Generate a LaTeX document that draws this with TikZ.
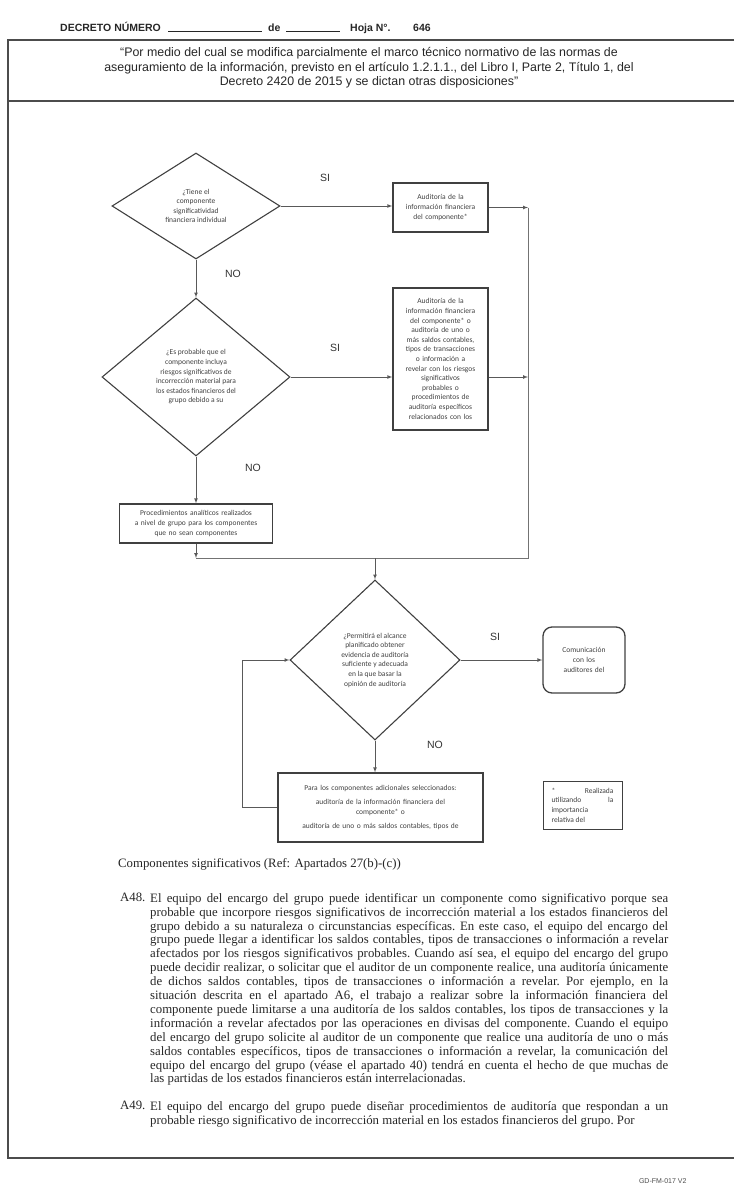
\documentclass[tikz,border=0pt]{standalone}
\usepackage{fontspec}
\setmainfont{Liberation Serif}
\setsansfont{Liberation Sans}
\newfontfamily\flowfont{Carlito}
\usetikzlibrary{shapes.geometric}
\tikzset{>=latex}
\tikzset{
  pregunta/.style={diamond, draw=black!75, line width=1.1pt, inner sep=0pt, align=center, text=black!75, font=\flowfont\fontsize{7.5}{9.6}\selectfont},
  caja/.style={rectangle, draw=black!75, line width=1.3pt, inner sep=2pt, align=center, text=black!75, font=\flowfont\fontsize{7.5}{9.6}\selectfont},
  flecha/.style={->, draw=black!65, line width=0.7pt},
  linea/.style={draw=black!55, line width=1pt},
  respuesta/.style={text=black!80, font=\sffamily\fontsize{10.5}{12}\selectfont},
  parrafo/.style={anchor=north west, inner sep=0pt, text width=518pt, align=justify, text=black!85, font=\frenchspacing\fontsize{12.8}{13.9}\selectfont},
  cabecera/.style={anchor=base west, inner sep=0pt, text=black!85, font=\sffamily\bfseries\fontsize{10.5}{12}\selectfont}
}

\begin{document}
\begin{tikzpicture}[x=1pt, y=-1pt]
    \useasboundingbox (0,0) rectangle (734,1190);

    \node[cabecera] (decreto) at (60,32) {DECRETO NÚMERO};
    \node[cabecera] (raya1) at (168,32) {\rule{94pt}{0.6pt}};
    \node[cabecera] (de) at (268,32) {de};
    \node[cabecera] (raya2) at (286,32) {\rule{54pt}{0.6pt}};
    \node[cabecera] (hoja) at (350,32) {Hoja N°.};
    \node[cabecera] (numero) at (413,32) {646};

    \draw[black!70, line width=1.8pt] (734,40) -- (8,40) -- (8,1158) -- (734,1158);
    \draw[black!70, line width=2pt] (8,101) -- (734,101);
    \node[align=center, text=black!85, font=\sffamily\fontsize{12.4}{14.6}\selectfont] (titulo) at (369,68) {“Por medio del cual se modifica parcialmente el marco técnico normativo de las normas de\\ aseguramiento de la información, previsto en el artículo 1.2.1.1., del Libro I, Parte 2, Título 1, del\\ Decreto 2420 de 2015 y se dictan otras disposiciones”};

    \node[pregunta, minimum width=168pt, minimum height=106pt, aspect=1.58] (d1) at (196,206) {¿Tiene el\\ componente\\ significatividad\\ financiera individual};
    \node[caja, minimum width=95pt, minimum height=49pt, text width=85pt] (b1) at (440.5,207.5) {Auditoría de la\\ información financiera\\ del componente*};
    \node[pregunta, minimum width=188pt, minimum height=158pt, aspect=1.19] (d2) at (196,377) {¿Es probable que el\\ componente incluya\\ riesgos significativos de\\ incorrección material para\\ los estados financieros del\\ grupo debido a su};
    \node[caja, minimum width=95pt, minimum height=142pt, text width=85pt] (b2) at (440.5,359) {Auditoría de la\\ información financiera\\ del componente* o\\ auditoría de uno o\\ más saldos contables,\\ tipos de transacciones\\ o información a\\ revelar con los riesgos\\ significativos\\ probables o\\ procedimientos de\\ auditoría específicos\\ relacionados con los};
    \node[caja, minimum width=153pt, minimum height=39pt, text width=145pt] (b3) at (196,523.5) {Procedimientos analíticos realizados\\ a nivel de grupo para los componentes\\ que no sean componentes};
    \node[pregunta, minimum width=170pt, minimum height=160pt, aspect=1.06] (d3) at (375,660) {¿Permitirá el alcance\\ planificado obtener\\ evidencia de auditoría\\ suficiente y adecuada\\ en la que basar la\\ opinión de auditoría};
    \node[caja, rounded corners=9pt, minimum width=82pt, minimum height=66pt, text width=72pt] (com) at (584,660) {Comunicación\\ con los\\ auditores del};
    \node[caja, minimum width=205pt, minimum height=69pt, text width=195pt] (b4) at (380.5,807.5) {Para los componentes adicionales seleccionados:\\[5pt] auditoría de la información financiera del\\ componente* o\\[5pt] auditoría de uno o más saldos contables, tipos de};
    \node[caja, line width=1pt, minimum width=79pt, minimum height=48pt, text width=62pt, align=justify] (nota) at (582.5,805) {*\hfill Realizada\linebreak utilizando la\linebreak importancia\linebreak relativa del};

    \node[respuesta] (si1) at (325,178) {SI};
    \node[respuesta] (no1) at (233,274) {NO};
    \node[respuesta] (si2) at (335,348) {SI};
    \node[respuesta] (no2) at (253,468) {NO};
    \node[respuesta] (si3) at (495,637) {SI};
    \node[respuesta] (no3) at (435,745) {NO};

    \coordinate (derecha) at (528,208);
    \coordinate (union) at (528,558);
    \coordinate (juntar) at (196,558);

    \draw[flecha] (d1.east) -- (b1.west |- d1.east);
    \draw[flecha] (d1.south) -- (d2.north);
    \draw[flecha] (d2.east) -- (b2.west |- d2.east);
    \draw[flecha] (d2.south) -- (b3.north);
    \draw[flecha] (b1.east) -- (b1.east -| derecha);
    \draw[flecha] (b2.east |- d2.east) -- (derecha |- d2.east);
    \draw[linea] (derecha) -- (union) -- (juntar);
    \draw[flecha] (b3.south) -- (juntar);
    \draw[flecha] (d3.north |- juntar) -- (d3.north);
    \draw[flecha] (d3.east) -- (com.west);
    \draw[flecha] (d3.south) -- (d3.south |- b4.north);
    \draw[flecha] (b4.west) -- ++(-35,0) |- (d3.west);

    \node[anchor=north west, inner sep=0pt, text=black!85, font=\fontsize{12.8}{13.9}\selectfont] (seccion) at (118,858) {Componentes significativos (Ref: Apartados 27(b)-(c))};
    \node[anchor=north west, inner sep=0pt, text=black!85, font=\fontsize{12.8}{13.9}\selectfont] (a48) at (120,893) {A48.};
    \node[parrafo] (texto48) at (150,893) {El equipo del encargo del grupo puede identificar un componente como significativo porque sea\linebreak
probable que incorpore riesgos significativos de incorrección material a los estados financieros del\linebreak
grupo debido a su naturaleza o circunstancias específicas. En este caso, el equipo del encargo del\linebreak
grupo puede llegar a identificar los saldos contables, tipos de transacciones o información a revelar\linebreak
afectados por los riesgos significativos probables. Cuando así sea, el equipo del encargo del grupo\linebreak
puede decidir realizar, o solicitar que el auditor de un componente realice, una auditoría únicamente\linebreak
de dichos saldos contables, tipos de transacciones o información a revelar. Por ejemplo, en la\linebreak
situación descrita en el apartado A6, el trabajo a realizar sobre la información financiera del\linebreak
componente puede limitarse a una auditoría de los saldos contables, los tipos de transacciones y la\linebreak
información a revelar afectados por las operaciones en divisas del componente. Cuando el equipo\linebreak
del encargo del grupo solicite al auditor de un componente que realice una auditoría de uno o más\linebreak
saldos contables específicos, tipos de transacciones o información a revelar, la comunicación del\linebreak
equipo del encargo del grupo (véase el apartado 40) tendrá en cuenta el hecho de que muchas de\linebreak
las partidas de los estados financieros están interrelacionadas.};
    \node[anchor=north west, inner sep=0pt, text=black!85, font=\fontsize{12.8}{13.9}\selectfont] (a49) at (120,1101) {A49.};
    \node[parrafo] (texto49) at (150,1101) {\parfillskip=0pt El equipo del encargo del grupo puede diseñar procedimientos de auditoría que respondan a un\linebreak
probable riesgo significativo de incorrección material en los estados financieros del grupo. Por};

    \node[anchor=east, text=black!70, font=\sffamily\fontsize{7}{8}\selectfont] (codigo) at (690,1181) {GD-FM-017 V2};
\end{tikzpicture}
\end{document}
